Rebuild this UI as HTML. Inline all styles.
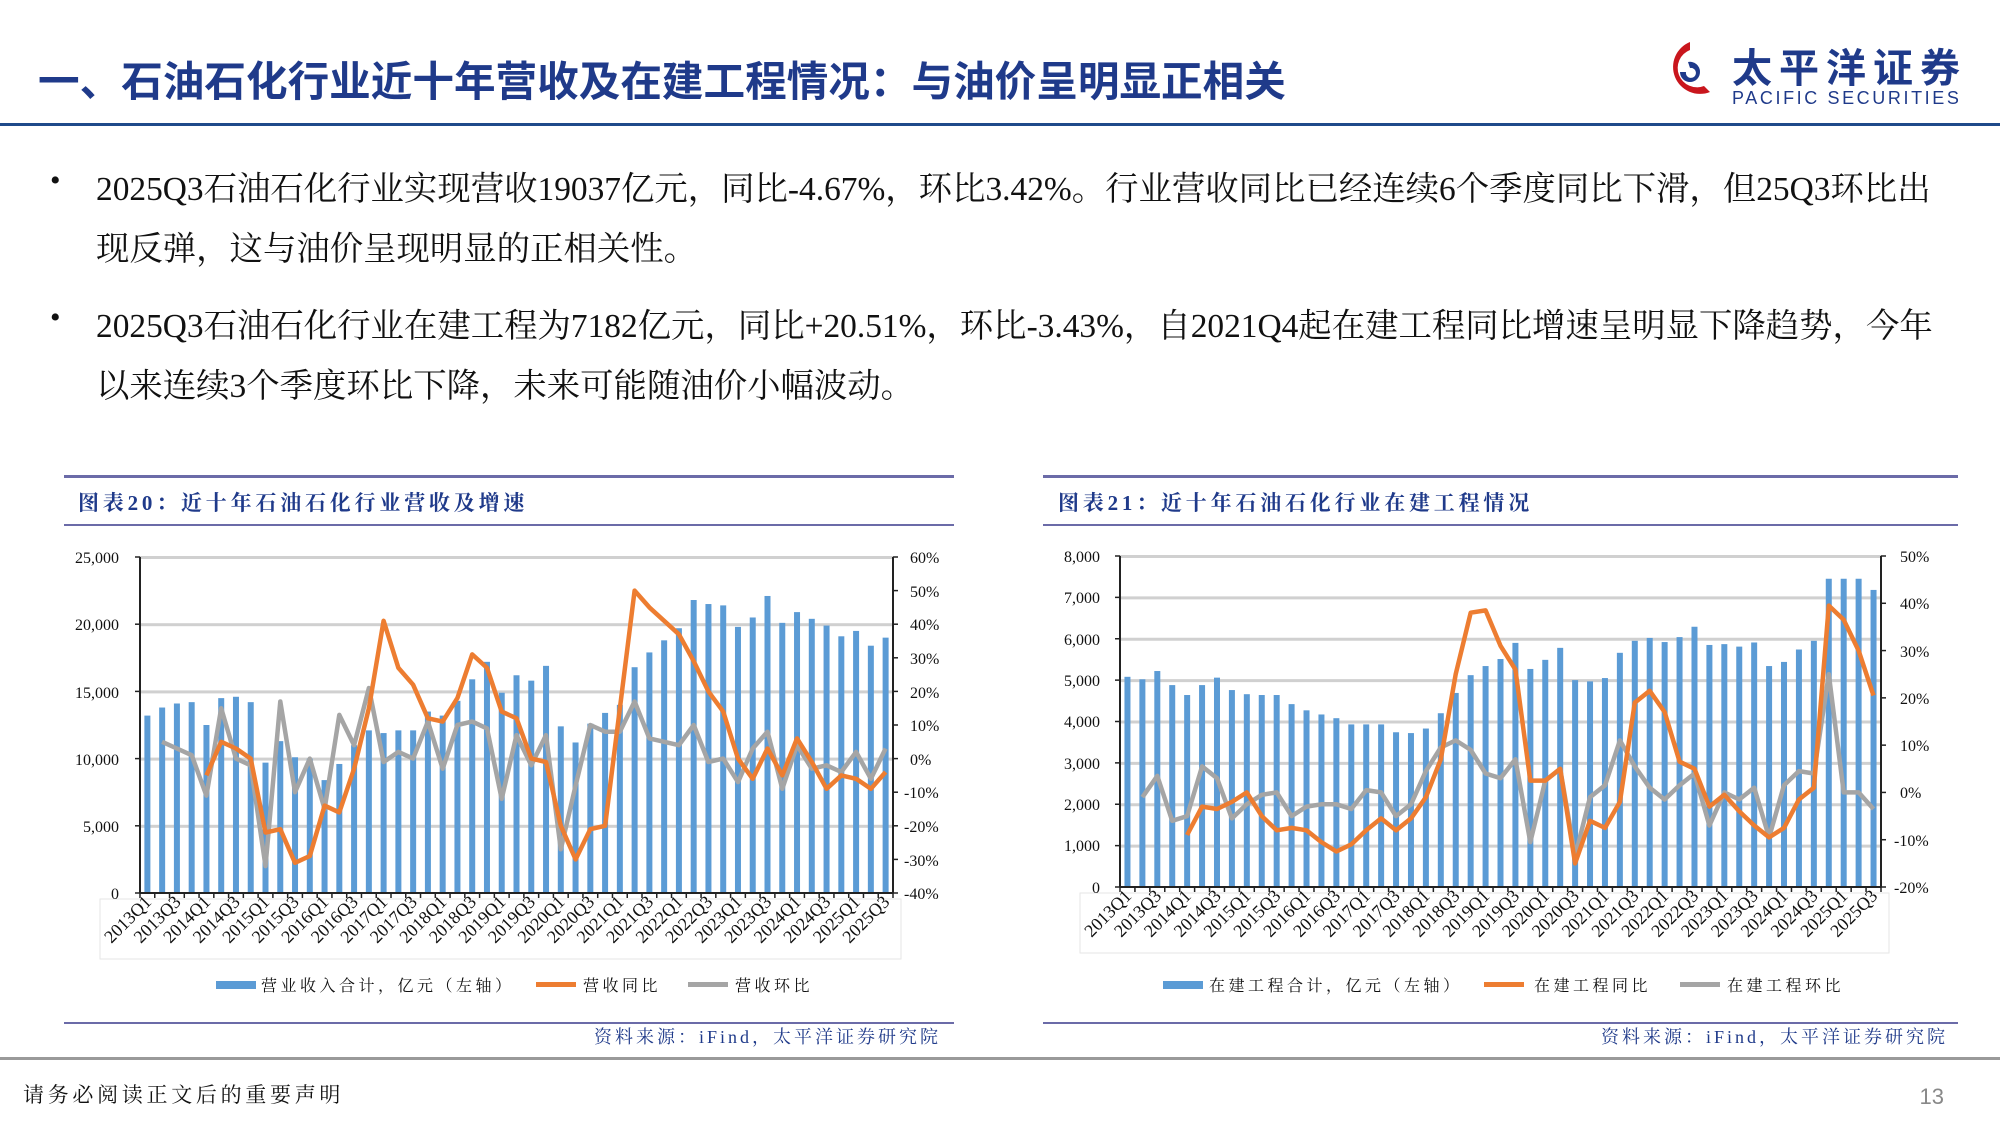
<!DOCTYPE html>
<html><head><meta charset="utf-8">
<style>
body{margin:0;width:2000px;height:1125px;background:#fff;position:relative;overflow:hidden;font-family:"Liberation Serif","Noto Serif CJK SC",serif;}
.abs{position:absolute;white-space:nowrap;}
#title{left:38px;top:48px;font:bold 41.6px "Liberation Sans","Noto Sans CJK SC",sans-serif;color:#1f3a8a;}
#hline{left:0;top:123px;width:2000px;height:3px;background:#1f4a8a;}
.bul{left:50px;font-size:30px;color:#111;}
.txt{left:96px;font-size:33.4px;color:#111;}
svg{position:absolute;left:0;top:0;}
</style></head><body>
<div class="abs" id="title">一、石油石化行业近十年营收及在建工程情况：与油价呈明显正相关</div>
<div class="abs" id="hline"></div>
<div class="abs" style="left:1660px;top:36px;width:50px;height:62px;">
<svg width="60" height="70" viewBox="0 0 60 70" style="position:static">
<path d="M30 6 A26 26 0 1 0 50 56 L44 50 A18 18 0 1 1 30 14 Z" fill="#c9161d"/>
<path d="M20 36 A10 10 0 1 0 40 36 A10 10 0 0 0 28 26 L30 32 A5 5 0 1 1 26 36 Z" fill="#1f3a8a"/>
</svg></div>
<div class="abs" style="left:1732px;top:36px;font:bold 40px 'Liberation Sans','Noto Sans CJK SC',sans-serif;color:#1f3a8a;letter-spacing:7px;">太平洋证券</div>
<div class="abs" style="left:1732px;top:88px;font:18px 'Liberation Sans',sans-serif;color:#1f3a8a;letter-spacing:2.6px;">PACIFIC SECURITIES</div>

<div class="abs bul" style="top:164px;">•</div>
<div class="abs txt" style="top:162px;">2025Q3石油石化行业实现营收19037亿元，同比-4.67%，环比3.42%。行业营收同比已经连续6个季度同比下滑，但25Q3环比出</div>
<div class="abs txt" style="top:222px;">现反弹，这与油价呈现明显的正相关性。</div>
<div class="abs bul" style="top:301px;">•</div>
<div class="abs txt" style="top:299px;">2025Q3石油石化行业在建工程为7182亿元，同比+20.51%，环比-3.43%，自2021Q4起在建工程同比增速呈明显下降趋势，今年</div>
<div class="abs txt" style="top:359px;">以来连续3个季度环比下降，未来可能随油价小幅波动。</div>

<svg width="2000" height="1125" id="s">
<g font-family="Liberation Serif, Noto Serif CJK SC, serif">
<rect x="64" y="475" width="890" height="3" fill="#6b6ba8"/>
<rect x="64" y="524" width="890" height="2" fill="#6b6ba8"/>
<rect x="64" y="1022" width="890" height="2" fill="#6b6ba8"/>
<rect x="1043" y="475" width="915" height="3" fill="#6b6ba8"/>
<rect x="1043" y="524" width="915" height="2" fill="#6b6ba8"/>
<rect x="1043" y="1022" width="915" height="2" fill="#6b6ba8"/>
<text x="78" y="510" font-size="21" font-weight="bold" fill="#1f3a8a" letter-spacing="3.8">图表20：近十年石油石化行业营收及增速</text>
<text x="1058" y="510" font-size="21" font-weight="bold" fill="#1f3a8a" letter-spacing="3.8">图表21：近十年石油石化行业在建工程情况</text>
<text x="941" y="1043" font-size="18" fill="#1f3a8a" text-anchor="end" letter-spacing="3">资料来源：iFind，太平洋证券研究院</text>
<text x="1948" y="1043" font-size="18" fill="#1f3a8a" text-anchor="end" letter-spacing="3">资料来源：iFind，太平洋证券研究院</text>
<rect x="0" y="1057" width="2000" height="3" fill="#9a9a9a"/>
<text x="23" y="1102" font-size="21" fill="#111" letter-spacing="3.7">请务必阅读正文后的重要声明</text>
<text x="1944" y="1104" font-size="22" fill="#888" text-anchor="end" font-family="Liberation Sans, sans-serif">13</text>

<g id="c1"></g><g id="c2"></g>
<g font-size="16" fill="#111" text-anchor="end">
<text x="119" y="563">25,000</text><text x="119" y="630">20,000</text><text x="119" y="698">15,000</text><text x="119" y="765">10,000</text><text x="119" y="832">5,000</text><text x="119" y="899">0</text>
</g>
<g font-size="16" fill="#111">
<text x="910" y="563">60%</text><text x="910" y="597">50%</text><text x="910" y="630">40%</text><text x="910" y="664">30%</text><text x="910" y="698">20%</text><text x="910" y="731">10%</text><text x="910" y="765">0%</text><text x="904" y="798">-10%</text><text x="904" y="832">-20%</text><text x="904" y="866">-30%</text><text x="904" y="899">-40%</text>
</g>
<g font-size="16" fill="#111" text-anchor="end">
<text x="1100" y="562">8,000</text><text x="1100" y="603">7,000</text><text x="1100" y="645">6,000</text><text x="1100" y="686">5,000</text><text x="1100" y="727">4,000</text><text x="1100" y="769">3,000</text><text x="1100" y="810">2,000</text><text x="1100" y="851">1,000</text><text x="1100" y="893">0</text>
</g>
<g font-size="16" fill="#111">
<text x="1900" y="562">50%</text><text x="1900" y="609">40%</text><text x="1900" y="657">30%</text><text x="1900" y="704">20%</text><text x="1900" y="751">10%</text><text x="1900" y="798">0%</text><text x="1894" y="846">-10%</text><text x="1894" y="893">-20%</text>
</g>
<g class="xl1" font-size="18" fill="#111" text-anchor="end">
<text>2013Q1</text><text>2013Q3</text><text>2014Q1</text><text>2014Q3</text><text>2015Q1</text><text>2015Q3</text><text>2016Q1</text><text>2016Q3</text><text>2017Q1</text><text>2017Q3</text><text>2018Q1</text><text>2018Q3</text><text>2019Q1</text><text>2019Q3</text><text>2020Q1</text><text>2020Q3</text><text>2021Q1</text><text>2021Q3</text><text>2022Q1</text><text>2022Q3</text><text>2023Q1</text><text>2023Q3</text><text>2024Q1</text><text>2024Q3</text><text>2025Q1</text><text>2025Q3</text>
</g>
<g class="xl2" font-size="18" fill="#111" text-anchor="end">
<text>2013Q1</text><text>2013Q3</text><text>2014Q1</text><text>2014Q3</text><text>2015Q1</text><text>2015Q3</text><text>2016Q1</text><text>2016Q3</text><text>2017Q1</text><text>2017Q3</text><text>2018Q1</text><text>2018Q3</text><text>2019Q1</text><text>2019Q3</text><text>2020Q1</text><text>2020Q3</text><text>2021Q1</text><text>2021Q3</text><text>2022Q1</text><text>2022Q3</text><text>2023Q1</text><text>2023Q3</text><text>2024Q1</text><text>2024Q3</text><text>2025Q1</text><text>2025Q3</text>
</g>
<g font-size="16" fill="#111" letter-spacing="3.5">
<rect x="216" y="981" width="40" height="8" fill="#5b9bd5"/>
<text x="261" y="991">营业收入合计，亿元（左轴）</text>
<rect x="536" y="982" width="40" height="5" fill="#ed7d31"/>
<text x="583" y="991">营收同比</text>
<rect x="688" y="982" width="40" height="5" fill="#a5a5a5"/>
<text x="735" y="991">营收环比</text>
<rect x="1163" y="981" width="40" height="8" fill="#5b9bd5"/>
<text x="1209" y="991">在建工程合计，亿元（左轴）</text>
<rect x="1484" y="982" width="40" height="5" fill="#ed7d31"/>
<text x="1534" y="991">在建工程同比</text>
<rect x="1680" y="982" width="40" height="5" fill="#a5a5a5"/>
<text x="1727" y="991">在建工程环比</text>
</g>
</g>
</svg>
<script>
var NS="http://www.w3.org/2000/svg";
function el(p,t,a){var e=document.createElementNS(NS,t);for(var k in a)e.setAttribute(k,a[k]);p.appendChild(e);return e;}
function chart(g,cfg){
 var L=cfg.x0,R=cfg.x1,T=cfg.y0,B=cfg.y1,n=51,w=(R-L)/n;
 for(var i=0;i<cfg.grid;i++){var y=T+(B-T)*i/cfg.grid;el(g,"rect",{x:L,y:y-1,width:R-L,height:3,fill:"#d0d0d0"});}
 el(g,"rect",{x:cfg.lx0,y:B+6,width:R-cfg.lx0+8,height:60,fill:"none",stroke:"#e6e6e6","stroke-width":1});
 cfg.bars.forEach(function(v,i){var h=(B-T)*v/cfg.lmax;el(g,"rect",{x:L+(i+0.5)*w-3,y:B-h,width:6,height:h,fill:"#5b9bd5"});});
 function yr(v){return T+(B-T)*(cfg.rmax-v)/(cfg.rmax-cfg.rmin);}
 function line(d,s,c){var p=d.map(function(v,j){return (L+(s+j+0.5)*w).toFixed(1)+","+yr(v).toFixed(1);}).join(" ");
  el(g,"polyline",{points:p,fill:"none",stroke:c,"stroke-width":4.5,"stroke-linejoin":"round"});}
 line(cfg.qoq,1,"#a5a5a5");line(cfg.yoy,4,"#ed7d31");
 el(g,"line",{x1:L,y1:T,x2:L,y2:B,stroke:"#222","stroke-width":2});
 el(g,"line",{x1:R,y1:T,x2:R,y2:B,stroke:"#222","stroke-width":2});
 el(g,"line",{x1:L,y1:B,x2:R,y2:B,stroke:"#222","stroke-width":2});
 for(var i=0;i<=n;i++)el(g,"line",{x1:L+i*w,y1:B,x2:L+i*w,y2:B+5,stroke:"#222","stroke-width":1.5});
 for(var i=0;i<cfg.lt;i++){var y=T+(B-T)*i/(cfg.lt-1);el(g,"line",{x1:L-5,y1:y,x2:L,y2:y,stroke:"#222","stroke-width":1.5});}
 for(var i=0;i<cfg.rt;i++){var y=T+(B-T)*i/(cfg.rt-1);el(g,"line",{x1:R,y1:y,x2:R+5,y2:y,stroke:"#222","stroke-width":1.5});}
 var ts=document.querySelectorAll(cfg.cls+" text");
 ts.forEach(function(t,k){var x=L+(2*k+0.5)*w+5,y=B+10;t.setAttribute("transform","translate("+x+","+y+") rotate(-45)");});
}
chart(document.getElementById("c1"),{x0:140,x1:893,y0:557,y1:893,lx0:100,grid:5,lmax:25000,rmax:60,rmin:-40,lt:6,rt:11,cls:".xl1",
bars:[13200,13800,14100,14200,12500,14500,14600,14200,9700,11300,10100,10000,8400,9600,11000,12100,11900,12100,12100,13500,13200,14300,15900,17200,14900,16200,15800,16900,12400,11200,12600,13400,14000,16800,17900,18800,19700,21800,21500,21400,19800,20500,22100,20100,20900,20400,19900,19100,19500,18400,19000],
yoy:[-5,5,3,0,-22,-21,-31,-29,-14,-16,-3,15,41,27,22,12,11,18,31,27,14,12,0,-1,-20,-30,-21,-20,15,50,45,41,37,29,20,14,0,-6,3,-5,6,-1,-9,-5,-6,-9,-4],
qoq:[5,3,1,-11,15,0,-2,-32,17,-10,0,-15,13,4,21,-1,2,0,11,-3,10,11,9,-12,7,-2,7,-27,-8,10,8,8,17,6,5,4,10,-1,0,-7,3,8,-9,4,-3,-2,-4,2,-6,3]});
chart(document.getElementById("c2"),{x0:1120,x1:1881,y0:556,y1:887,lx0:1080,grid:8,lmax:8000,rmax:50,rmin:-20,lt:9,rt:8,cls:".xl2",
bars:[5080,5020,5220,4880,4640,4880,5060,4760,4660,4640,4640,4420,4270,4170,4080,3930,3930,3930,3740,3720,3830,4200,4690,5120,5340,5510,5900,5270,5490,5780,5000,4970,5050,5660,5950,6020,5920,6040,6290,5850,5870,5810,5910,5340,5440,5740,5950,7450,7450,7450,7180],
yoy:[-9,-3,-3.5,-2,0,-5,-8,-7.5,-8,-10.5,-12.5,-11,-8,-5.5,-8,-5.5,-1,7,25,38,38.5,31,26,2.5,2.5,5,-15,-6,-7.5,-2,19,21.5,17,6.5,5,-3,-0.5,-4,-7,-9.5,-7.5,-1.5,1,39.5,36.5,30,20.5],
qoq:[-1,3.5,-6,-5,5.5,3,-5.5,-2.5,-0.5,0,-5,-3,-2.5,-2.5,-3.5,0.5,0,-5,-2.5,4.5,9.5,11,9,4,3,7,-10.5,2.5,5,-13.5,-1,1.5,11,5.5,1,-1.5,1.5,4,-7,0,-1.5,1,-9.5,1.5,4.5,4,25,0,0,-3.5]});
</script>
</body></html>
